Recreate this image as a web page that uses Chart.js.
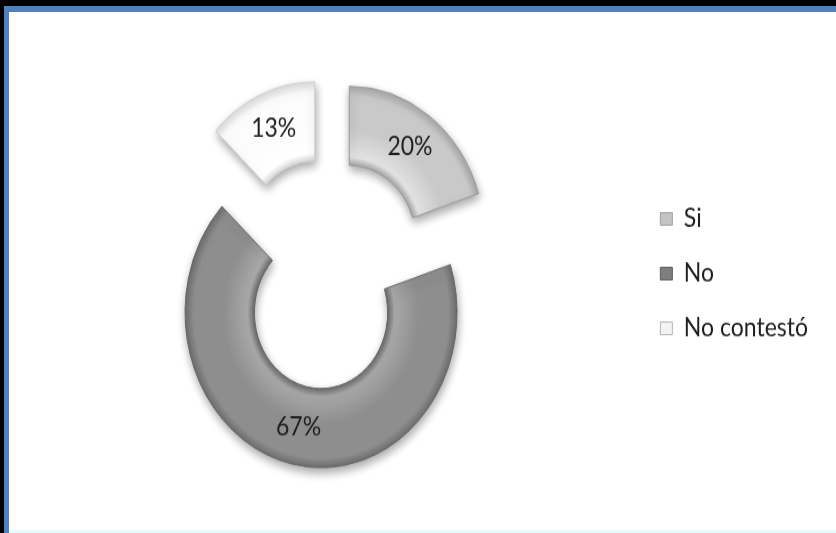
<!DOCTYPE html>
<html>
<head>
<meta charset="utf-8">
<title>Encuesta</title>
<script src="https://cdn.jsdelivr.net/npm/chart.js@4.4.1/dist/chart.umd.min.js"></script>
<style>
  html, body { margin: 0; padding: 0; background: #fff; overflow: hidden; }
  #frame { position: relative; width: 836px; height: 533px; background: #fff; }
  .edge { position: absolute; }
  /* the chart is drawn a little flatter and stretched back to full height */
  #chart-box { position: absolute; left: 0; top: 0; width: 836px; height: 468px;
               transform: scaleY(1.14); transform-origin: 0 0; }
</style>
</head>
<body>
<div id="frame">
  <div id="chart-box"><canvas id="pieChart"></canvas></div>
  <div class="edge" style="left:0;top:0;width:836px;height:6px;background:#000"></div>
  <div class="edge" style="left:0;top:0;width:4px;height:533px;background:#000"></div>
  <div class="edge" style="left:4px;top:6px;width:832px;height:6px;background:#4f81bd"></div>
  <div class="edge" style="left:4px;top:6px;width:5px;height:527px;background:#4f81bd"></div>
  <div class="edge" style="left:9px;top:530px;width:827px;height:3px;background:#e6fbfb"></div>
</div>

<script>
const categories = ["Si", "No", "No contestó"];
const percentages = [20, 67, 13];

// inner edge, highlight, body, outer edge
const sliceShades = [
    ["#a8a8a8", "#e2e2e2", "#c9c9c9", "#a9a9a9"],
    ["#6c6c6c", "#a8a8a8", "#8e8e8e", "#6f6f6f"],
    ["#d8d8d8", "#ffffff", "#fcfcfc", "#dedede"],
];
const sliceEdges = ["#9a9a9a", "#666666", "#cfcfcf"];
const legendFill = ["#c4c4c4", "#7e7e7e", "#f4f4f4"];
const legendEdge = ["#a0a0a0", "#5e5e5e", "#b5b5b5"];

const EXPLODE = 35;
const TEXT_COLOR = "#1e1e1e";

function ringShade(context) {
    const chart = context.chart;
    const area = chart.chartArea;
    const ctrl = chart.getDatasetMeta(0).controller;
    const s = sliceShades[context.dataIndex];
    if (!area || !ctrl.outerRadius) return s[2];
    const cx = (area.left + area.right) / 2;
    const cy = (area.top + area.bottom) / 2;
    const g = chart.ctx.createRadialGradient(cx, cy, ctrl.innerRadius, cx, cy, ctrl.outerRadius);
    g.addColorStop(0, s[0]);
    g.addColorStop(0.1, s[1]);
    g.addColorStop(0.45, s[2]);
    g.addColorStop(0.88, s[2]);
    g.addColorStop(1, s[3]);
    return g;
}

// pulls every slice out along its middle angle, with a soft drop shadow,
// then writes the percentage in the middle of each slice
const explodedArcs = {
    id: "explodedArcs",
    beforeDatasetDraw(chart, args) {
        const ctx = chart.ctx;
        ctx.save();
        ctx.shadowColor = "rgba(0, 0, 0, 0.35)";
        ctx.shadowBlur = 9;
        ctx.shadowOffsetX = 1;
        ctx.shadowOffsetY = 4;
        args.meta.data.forEach((arc) => {
            const mid = (arc.startAngle + arc.endAngle) / 2;
            ctx.save();
            ctx.translate(Math.cos(mid) * EXPLODE, Math.sin(mid) * EXPLODE);
            arc.draw(ctx);
            ctx.restore();
        });
        ctx.restore();
        return false;
    },
    afterDatasetsDraw(chart) {
        const ctx = chart.ctx;
        const meta = chart.getDatasetMeta(0);
        ctx.save();
        ctx.font = "23px Lato";
        ctx.fillStyle = TEXT_COLOR;
        ctx.textAlign = "center";
        ctx.textBaseline = "middle";
        meta.data.forEach((arc, i) => {
            const mid = (arc.startAngle + arc.endAngle) / 2;
            const pos = arc.tooltipPosition();
            ctx.fillText(percentages[i] + "%",
                pos.x + Math.cos(mid) * (EXPLODE + 2),
                pos.y + Math.sin(mid) * (EXPLODE + 2));
        });
        ctx.restore();
    },
};

new Chart(document.getElementById("pieChart"), {
    type: "doughnut",
    data: {
        labels: categories,
        datasets: [
            {
                data: percentages,
                backgroundColor: ringShade,
                borderColor: sliceEdges,
                borderWidth: 1,
                radius: 136,
                cutout: "49%",
            },
        ],
    },
    options: {
        responsive: true,
        maintainAspectRatio: false,
        animation: false,
        events: [],
        layout: {
            padding: { left: 22, right: 18, top: 12, bottom: 0 },
        },
        plugins: {
            legend: {
                position: "right",
                align: "center",
                labels: {
                    font: { family: "Lato", size: 23 },
                    color: TEXT_COLOR,
                    boxWidth: 12,
                    boxHeight: 11,
                    padding: 25,
                    generateLabels: () =>
                        categories.map((text, i) => ({
                            text: text,
                            fillStyle: legendFill[i],
                            strokeStyle: legendEdge[i],
                            lineWidth: 1,
                            fontColor: TEXT_COLOR,
                            hidden: false,
                            index: i,
                        })),
                },
            },
            tooltip: { enabled: false },
        },
    },
    plugins: [explodedArcs],
});
</script>
</body>
</html>
